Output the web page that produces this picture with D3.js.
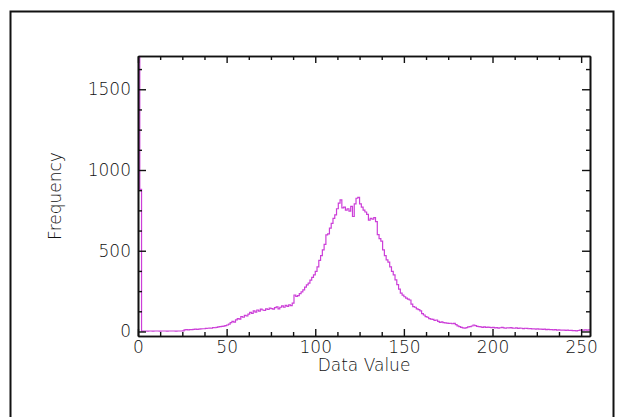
<!DOCTYPE html>
<html>
<head>
<meta charset="utf-8">
<script src="https://cdn.jsdelivr.net/npm/d3@7"></script>
<style>
  body { margin: 0; background: #fff; }
  .axis path, .axis line { stroke: #111; }
  .axis text { font-family: "DejaVu Sans", sans-serif; font-size: 17px; font-weight: 200; fill: #111; }
  .title { font-family: "DejaVu Sans", sans-serif; font-size: 17px; font-weight: 200; fill: #111; }
</style>
</head>
<body>
<div id="chart"></div>
<script>
// histogram counts, one per data value 0..255
const counts = [
  1800, 880, 2, 3, 3, 2, 3, 3, 2, 3,
  3, 3, 2, 3, 3, 3, 2, 3, 3, 3,
  3, 2, 3, 3, 3, 4, 10, 11, 10, 12,
  12, 13, 14, 13, 15, 16, 17, 17, 19, 20,
  21, 20, 24, 23, 26, 28, 30, 32, 33, 36,
  40, 46, 55, 62, 58, 72, 80, 76, 92, 88,
  100, 96, 108, 118, 112, 127, 120, 133, 126, 138,
  133, 130, 140, 136, 145, 142, 138, 148, 152, 140,
  150, 158, 150, 162, 155, 165, 160, 175, 226, 218,
  222, 235, 245, 258, 275, 288, 300, 318, 335, 350,
  372, 400, 440, 470, 505, 540, 598, 605, 640, 670,
  700, 722, 760, 795, 815, 765, 770, 752, 760, 745,
  775, 712, 790, 825, 830, 790, 770, 752, 740, 725,
  690, 700, 695, 705, 680, 600, 575, 560, 505, 470,
  443, 430, 400, 372, 350, 320, 290, 262, 237, 225,
  215, 206, 200, 195, 170, 154, 150, 140, 135, 128,
  110, 102, 92, 88, 80, 76, 75, 68, 71, 62,
  57, 60, 55, 53, 52, 50, 51, 48, 50, 42,
  35, 30, 25, 22, 20, 24, 28, 30, 34, 40,
  36, 32, 30, 28, 26, 28, 25, 27, 26, 24,
  25, 22, 24, 21, 23, 25, 22, 20, 23, 22,
  24, 21, 20, 22, 19, 21, 20, 18, 20, 19,
  17, 18, 16, 17, 15, 16, 14, 15, 13, 14,
  12, 13, 11, 12, 10, 11, 9, 10, 9, 8,
  9, 7, 8, 6, 7, 5, 5, 4, 6, 8,
  9, 8, 10, 9, 10, 9
];
const xTicks = [0, 50, 100, 150, 200, 250];
const xMinorTicks = [12.5, 25, 37.5, 62.5, 75, 87.5, 112.5, 125, 137.5, 162.5, 175, 187.5, 212.5, 225, 237.5];
const yTicks = [0, 500, 1000, 1500];
const yMinorTicks = [125, 250, 375, 625, 750, 875, 1125, 1250, 1375, 1625];
const xDomain = [0, 255];
const yDomain = [-28, 1706];
const xTitle = 'Data Value';
const yTitle = 'Frequency';

const width = 622, height = 417;
const margins = { top: 56, right: 32, bottom: 81, left: 138 };

const svg = d3.select('#chart').append('svg')
  .attr('width', width)
  .attr('height', height);

svg.append('rect').attr('width', width).attr('height', height).attr('fill', '#fff');

// outer frame (bottom edge runs off the picture)
svg.append('rect')
  .attr('x', 10.5).attr('y', 11.5)
  .attr('width', 603).attr('height', 420)
  .attr('fill', 'none').attr('stroke', '#111').attr('stroke-width', 2);

const x = d3.scaleLinear().domain(xDomain).range([margins.left, width - margins.right]);
const y = d3.scaleLinear().domain(yDomain).range([height - margins.bottom, margins.top]);

svg.append('clipPath').attr('id', 'plot-clip')
  .append('rect')
  .attr('x', margins.left).attr('y', margins.top)
  .attr('width', width - margins.left - margins.right)
  .attr('height', height - margins.top - margins.bottom);

const line = d3.line()
  .x((d, i) => x(i))
  .y(d => y(d))
  .curve(d3.curveStepAfter);

svg.append('path')
  .datum(counts)
  .attr('clip-path', 'url(#plot-clip)')
  .attr('fill', 'none')
  .attr('stroke', '#cc3fd8')
  .attr('stroke-width', 1.2)
  .attr('d', line);

// axes, ticks pointing inward on all four sides
const plotBottom = height - margins.bottom, plotTop = margins.top;
const plotLeft = margins.left, plotRight = width - margins.right;

const addAxis = (axis, tx, ty, cls) => svg.append('g')
  .attr('class', 'axis ' + cls)
  .attr('transform', `translate(${tx},${ty})`)
  .call(axis);

addAxis(d3.axisBottom(x).tickValues(xTicks).tickFormat(d3.format('d')).tickSizeInner(-7).tickSizeOuter(0).tickPadding(5), 0, plotBottom, 'xb');
addAxis(d3.axisBottom(x).tickValues(xMinorTicks).tickFormat('').tickSizeInner(-4).tickSizeOuter(0), 0, plotBottom, 'xbm');
addAxis(d3.axisTop(x).tickValues(xTicks).tickFormat('').tickSizeInner(-7).tickSizeOuter(0), 0, plotTop, 'xt');
addAxis(d3.axisTop(x).tickValues(xMinorTicks).tickFormat('').tickSizeInner(-4).tickSizeOuter(0), 0, plotTop, 'xtm');
addAxis(d3.axisLeft(y).tickValues(yTicks).tickFormat(d3.format('d')).tickSizeInner(-8).tickSizeOuter(0).tickPadding(7), plotLeft, 0, 'yl');
addAxis(d3.axisLeft(y).tickValues(yMinorTicks).tickFormat('').tickSizeInner(-4).tickSizeOuter(0), plotLeft, 0, 'ylm');
addAxis(d3.axisRight(y).tickValues(yTicks).tickFormat('').tickSizeInner(-8).tickSizeOuter(0), plotRight, 0, 'yr');
addAxis(d3.axisRight(y).tickValues(yMinorTicks).tickFormat('').tickSizeInner(-4).tickSizeOuter(0), plotRight, 0, 'yrm');

svg.selectAll('.axis path').attr('stroke-width', 1.6);
svg.selectAll('.axis line').attr('stroke-width', 1.4);

// titles
svg.append('text')
  .attr('class', 'title')
  .attr('x', (plotLeft + plotRight) / 2)
  .attr('y', 371)
  .attr('text-anchor', 'middle')
  .text(xTitle);

svg.append('text')
  .attr('class', 'title')
  .attr('transform', `translate(61,${(plotTop + plotBottom) / 2}) rotate(-90)`)
  .attr('text-anchor', 'middle')
  .text(yTitle);
</script>
</body>
</html>
